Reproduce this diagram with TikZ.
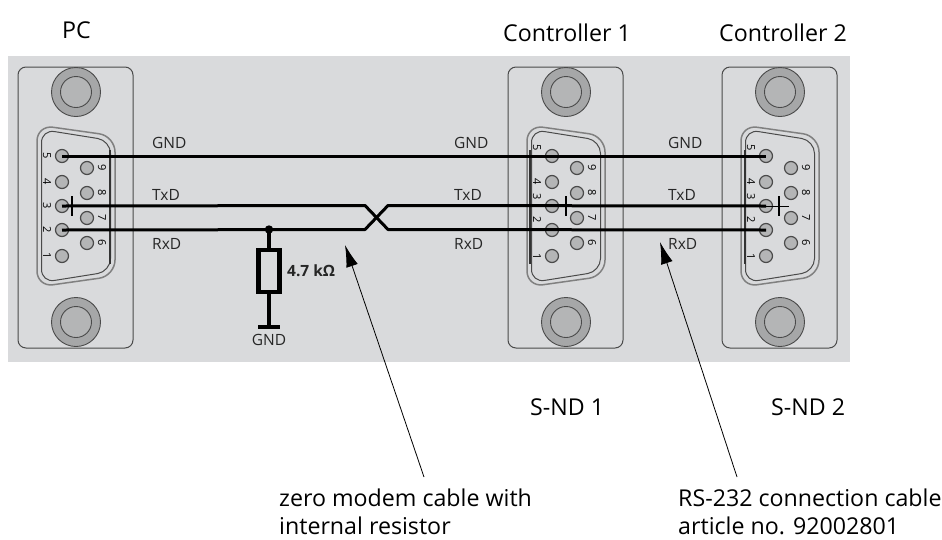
\documentclass[tikz,border=0pt]{standalone}
\usepackage{fontspec}
\setmainfont{Open Sans}
\usetikzlibrary{arrows.meta}
\definecolor{panelgray}{HTML}{D9DADC}
\definecolor{pingray}{HTML}{B4B5B6}
\definecolor{screwgray}{HTML}{A6A7A8}
\definecolor{edgegray}{HTML}{4A4A4A}
\tikzset{>={Latex[length=22pt,width=12pt]}}
\tikzset{
  caption/.style={anchor=west,inner sep=0pt,font=\fontsize{23.2}{26}\selectfont},
  signal/.style={anchor=west,inner sep=0pt,font=\fontsize{15.5}{18}\selectfont,text=black!85},
  wire/.style={line width=3pt,black,line join=round},
  pin/.style={circle,draw=edgegray,fill=pingray,line width=1.2pt,minimum size=13pt,inner sep=0pt},
  digit/.style={inner sep=0pt,font=\fontsize{11}{11}\selectfont,rotate=-90}
}
\def\shellpath#1#2{(#1-#2,206) -- (#1-#2,164-#2) -- (#1+#2,175-#2) -- (#1+#2,237+#2) -- (#1-#2,248+#2) -- cycle}

\begin{document}
\begin{tikzpicture}[x=1pt,y=-1pt]
  \useasboundingbox (0,0) rectangle (942,539);
  % grey panel
  \fill[panelgray] (8,56) rectangle (850,362);
  % connectors
  \foreach \name/\X/\up/\dark in {pc/76/0/34,ctrla/566/1/-36,ctrlb/780/1/-35} {
    \draw[edgegray,line width=1pt,rounded corners=8pt] (\X-58,67) rectangle (\X+57,348);
    % screws
    \foreach \Y in {92,322} {
      \draw[edgegray,fill=screwgray,line width=0.9pt] (\X,\Y) circle (24.5);
      \draw[edgegray,fill=pingray,line width=0.9pt] (\X,\Y) circle (15.5);
    }
    % shell
    \draw[gray,line width=1.5pt,rounded corners=16pt] \shellpath{\X}{39};
    \draw[edgegray,line width=1pt,rounded corners=13pt] \shellpath{\X}{34.5};
    \draw[black!80,line width=1.4pt] (\X+\dark,150) -- (\X+\dark,264);
    % pins
    \foreach \N/\Y/\dY in {5/156/-8,4/182/0,3/206/-9,2/230/-10,1/256/1} {
      \node[pin] (\name\N) at (\X-14,\Y) {};
      \node[digit] (\name d\N) at (\X-29,\Y+\up*\dY) {\N};
    }
    \foreach \N/\Y in {9/168,8/193,7/218,6/243} {
      \node[pin] (\name\N) at (\X+11,\Y) {};
      \node[digit] (\name d\N) at (\X+26,\Y) {\N};
    }
  }
  % ticks on pin 3
  \draw[black,line width=1.2pt] (72,196) -- (72,216);
  \draw[black,line width=1.2pt] (566,196) -- (566,216);
  \draw[black,line width=1.2pt] (779,196) -- (779,216);
  \coordinate (stub) at (789,206);
  \draw[black,line width=0.8pt] (ctrlb3.center) -- (stub);
  % cable
  \coordinate (crossTL) at (365,205.5);
  \coordinate (crossBL) at (365,229.5);
  \coordinate (crossTR) at (388,205.5);
  \coordinate (crossBR) at (388,229.5);
  \draw[wire] (pc5.center) -- (ctrlb5.center);
  \draw[wire] (pc3.center) -- (crossTL) -- (crossBR) -- (ctrlb2.center);
  \draw[wire] (pc2.center) -- (crossBL) -- (crossTR) -- (ctrlb3.center);
  % resistor
  \coordinate (tap) at (269,229.5);
  \coordinate (bar) at (269,327);
  \node[draw,line width=4.5pt,minimum width=21pt,minimum height=42pt,inner sep=0pt,outer sep=0pt] (res) at (269,271) {};
  \fill (tap) circle (4.2);
  \draw[line width=4pt] (tap) -- (res);
  \draw[line width=4pt] (res) -- (bar);
  \draw[line width=4.5pt] (258,327) -- (280,327);
  \node[signal,anchor=north] (resgnd) at (269,334) {GND};
  \node[signal] (resval) at (287,271) {\textbf{4.7 kΩ}};
  % signal names
  \foreach \name/\X in {a/152,b/454,c/668} {
    \node[signal] (gnd\name) at (\X,143) {GND};
    \node[signal] (txd\name) at (\X,195) {TxD};
    \node[signal] (rxd\name) at (\X,244) {RxD};
  }
  % captions
  \node[caption] (pclabel) at (62,30) {PC};
  \node[caption] (ctrlalabel) at (503,33) {Controller 1};
  \node[caption] (ctrlblabel) at (719,33) {Controller 2};
  \node[caption] (sndalabel) at (530,407) {S-ND 1};
  \node[caption] (sndblabel) at (771,407) {S-ND 2};
  \node[caption] (zerolabel) at (279,498) {zero modem cable with};
  \node[caption] (zerolabelb) at (279,526) {internal resistor};
  \node[caption] (rslabel) at (678,498) {RS-232 connection cable};
  \node[caption] (rslabelb) at (678,526) {article no. 92002801};
  % arrows
  \coordinate (zerofoot) at (424,477);
  \coordinate (zerotip) at (345,245);
  \coordinate (rsfoot) at (737,477);
  \coordinate (rstip) at (660,242);
  \draw[->,line width=0.8pt] (zerofoot) -- (zerotip);
  \draw[->,line width=0.8pt] (rsfoot) -- (rstip);
\end{tikzpicture}
\end{document}
